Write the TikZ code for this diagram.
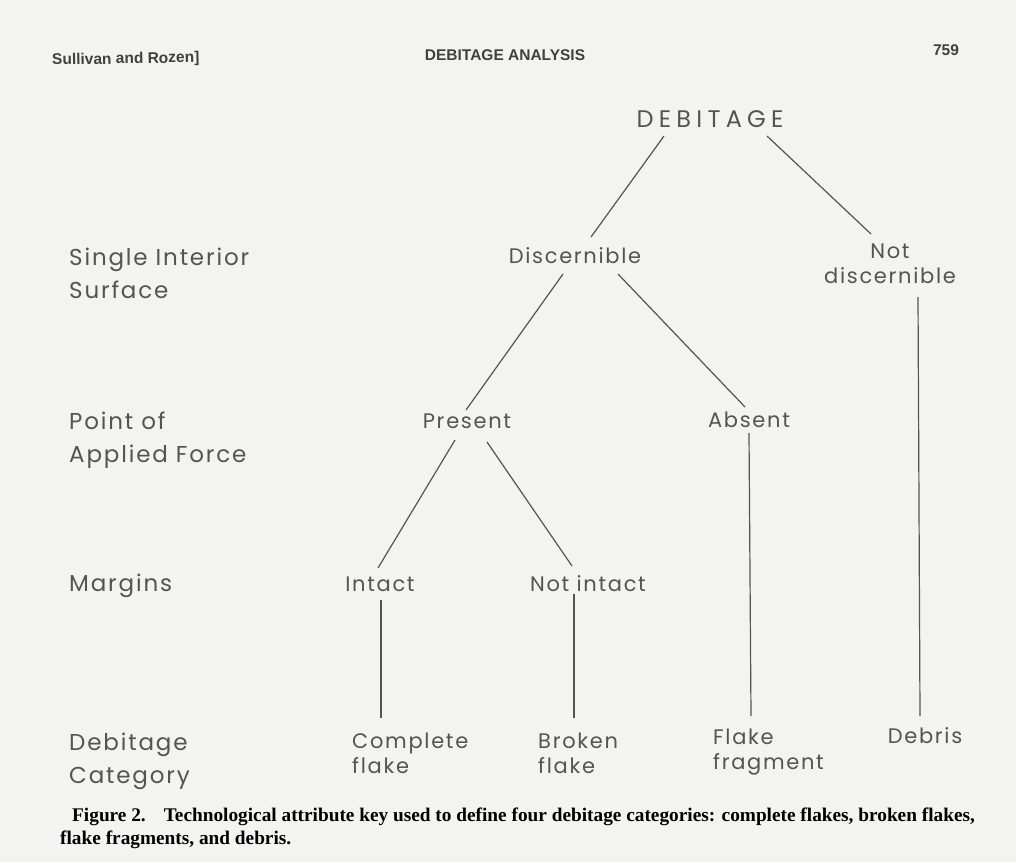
\documentclass[tikz,border=0pt]{standalone}
\usepackage{fontspec}
\setmainfont{Liberation Serif}
\newfontfamily\keyfont[LetterSpace=8]{Poppins}
\newfontfamily\rootfont[LetterSpace=22]{Poppins}
\newfontfamily\headfont{Liberation Sans}
\definecolor{pagebg}{RGB}{243,243,241}
\definecolor{ink}{RGB}{84,84,84}
\begin{document}
\begin{tikzpicture}[x=1pt,y=-1pt,
  treelbl/.style={inner sep=0pt,text=ink,font=\keyfont\fontsize{21}{25}\selectfont},
  rowlbl/.style={inner sep=0pt,text=ink,anchor=base west,align=left,font=\keyfont\fontsize{23}{33}\selectfont},
  headlbl/.style={inner sep=0pt,anchor=base,text=black!75,font=\headfont\bfseries\fontsize{15.5}{18}\selectfont},
  branch/.style={draw=ink,line width=1.2pt}]
\fill[pagebg] (0,0) rectangle (1016,862);
\useasboundingbox (0,0) rectangle (1016,862);

% running head
\node[headlbl,anchor=base west,rotate=1] (hleft) at (52,65) {Sullivan and Rozen]};
\node[headlbl] (hmid) at (505,60) {DEBITAGE ANALYSIS};
\node[headlbl] (hpage) at (946,55) {759};

% row labels (base = last line)
\node[rowlbl] (rsurf) at (69,298) {Single Interior\\Surface};
\node[rowlbl] (rforce) at (69,462) {Point of\\Applied Force};
\node[rowlbl] (rmarg) at (69,591) {Margins};
\node[rowlbl] (rcat) at (69,783) {Debitage\\Category};

% key
\node[treelbl,anchor=base,font=\rootfont\fontsize{24}{28}\selectfont] (deb) at (710,127) {DEBITAGE};
\node[treelbl,anchor=base] (disc) at (575,263) {Discernible};
\node[treelbl,anchor=base,align=center] (notdisc) at (890,283) {Not\\discernible};
\node[treelbl,anchor=base] (present) at (467,428) {Present};
\node[treelbl,anchor=base] (absent) at (749,427) {Absent};
\node[treelbl,anchor=base] (intact) at (380,591) {Intact};
\node[treelbl,anchor=base] (notintact) at (588,591) {Not intact};
\node[treelbl,anchor=base west,align=left] (complete) at (352,773) {Complete\\flake};
\node[treelbl,anchor=base west,align=left] (broken) at (538,773) {Broken\\flake};
\node[treelbl,anchor=base west,align=left] (fragment) at (713,769) {Flake\\fragment};
\node[treelbl,anchor=base] (debris) at (925,743) {Debris};

\draw[branch] ([shift={(-46,9)}]deb.base) -- ([shift={(16,-26)}]disc.base);
\draw[branch] ([shift={(57,9)}]deb.base) -- ([shift={(-19,-49)}]notdisc.base);
\draw[branch] ([shift={(-12,11)}]disc.base) -- ([shift={(-1,-18)}]present.base);
\draw[branch] ([shift={(43,11)}]disc.base) -- ([shift={(-4,-20)}]absent.base);
\draw[branch] ([shift={(-12,12)}]present.base) -- ([shift={(-2,-23)}]intact.base);
\draw[branch] ([shift={(20,14)}]present.base) -- ([shift={(-16,-25)}]notintact.base);
\draw[branch] ([shift={(0,6)}]absent.base) -- ([shift={(38,-53)}]fragment.base west);
\draw[branch] ([shift={(28,14)}]notdisc.base) -- ([shift={(-5,-27)}]debris.base);
\draw[branch] ([shift={(1,9)}]intact.base) -- ([shift={(29,-55)}]complete.base west);
\draw[branch] ([shift={(-14,3)}]notintact.base) -- ([shift={(36,-55)}]broken.base west);

% caption
\node[inner sep=0pt,anchor=base west,font=\bfseries\fontsize{19.3}{22}\selectfont] (cap1) at (72,821)
  {Figure 2.\hspace{0.6em} Technological attribute key used to define four debitage categories: complete flakes, broken flakes,};
\node[inner sep=0pt,anchor=base west,font=\bfseries\fontsize{19.3}{22}\selectfont] (cap2) at (60,844)
  {flake fragments, and debris.};
\end{tikzpicture}
\end{document}
